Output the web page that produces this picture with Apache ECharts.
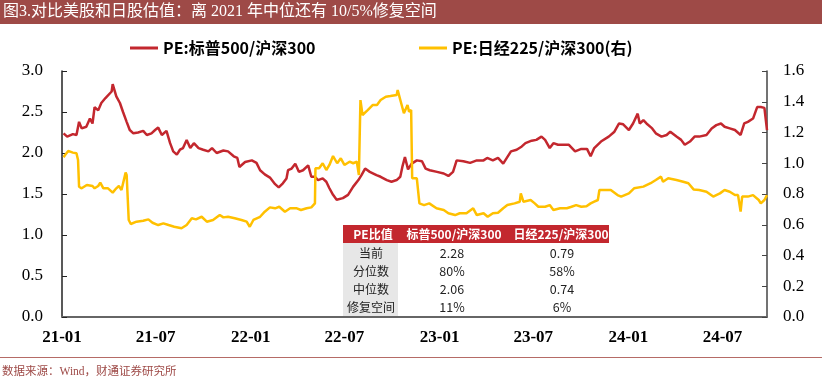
<!DOCTYPE html>
<html><head><meta charset="utf-8">
<script src="https://cdn.jsdelivr.net/npm/echarts@6/dist/echarts.min.js"></script>
<style>html,body{margin:0;padding:0;background:#fff}#c{width:828px;height:392px}</style>
</head><body><div id="c"></div>
<script>
// ---- data ----
const spxName = 'PE:标普500/沪深300';
const nkyName = 'PE:日经225/沪深300(右)';
const spxDates = ['2021-01-04','2021-01-11','2021-01-22','2021-01-29','2021-02-03','2021-02-08','2021-02-17','2021-02-24','2021-03-01','2021-03-05','2021-03-12','2021-03-18','2021-03-26','2021-04-07','2021-04-09','2021-04-16','2021-04-23','2021-04-29','2021-05-06','2021-05-12','2021-05-19','2021-05-28','2021-06-07','2021-06-14','2021-06-23','2021-06-30','2021-07-06','2021-07-13','2021-07-22','2021-07-29','2021-08-04','2021-08-11','2021-08-17','2021-08-23','2021-08-30','2021-09-06','2021-09-13','2021-09-22','2021-10-01','2021-10-11','2021-10-18','2021-10-27','2021-11-09','2021-11-18','2021-11-29','2021-12-06','2021-12-10','2021-12-21','2022-01-03','2022-01-12','2022-01-19','2022-01-28','2022-02-07','2022-02-17','2022-02-24','2022-03-04','2022-03-11','2022-03-14','2022-03-21','2022-03-28','2022-04-04','2022-04-12','2022-04-22','2022-04-28','2022-05-05','2022-05-11','2022-05-20','2022-05-27','2022-06-02','2022-06-09','2022-06-16','2022-06-28','2022-07-08','2022-07-18','2022-07-28','2022-08-03','2022-08-10','2022-08-19','2022-09-01','2022-09-09','2022-09-21','2022-09-30','2022-10-10','2022-10-17','2022-10-21','2022-10-26','2022-11-01','2022-11-08','2022-11-18','2022-11-28','2022-12-05','2022-12-13','2022-12-27','2023-01-09','2023-01-18','2023-01-27','2023-02-03','2023-02-16','2023-03-01','2023-03-14','2023-03-27','2023-04-03','2023-04-14','2023-04-24','2023-05-04','2023-05-11','2023-05-19','2023-05-30','2023-06-09','2023-06-16','2023-06-28','2023-07-07','2023-07-17','2023-07-24','2023-08-02','2023-08-09','2023-08-18','2023-08-31','2023-09-08','2023-09-20','2023-10-02','2023-10-13','2023-10-20','2023-10-27','2023-11-09','2023-11-24','2023-12-05','2023-12-14','2023-12-22','2024-01-02','2024-01-10','2024-01-19','2024-01-23','2024-01-30','2024-02-05','2024-02-16','2024-02-23','2024-03-05','2024-03-15','2024-03-22','2024-04-03','2024-04-12','2024-04-19','2024-04-29','2024-05-08','2024-05-17','2024-05-31','2024-06-10','2024-06-19','2024-06-28','2024-07-05','2024-07-15','2024-07-25','2024-08-05','2024-08-12','2024-08-19','2024-08-29','2024-09-06','2024-09-13','2024-09-20','2024-09-25'];
const spxValues = [2.24,2.20,2.23,2.22,2.38,2.30,2.32,2.42,2.36,2.56,2.52,2.61,2.67,2.75,2.84,2.69,2.61,2.50,2.38,2.28,2.24,2.25,2.27,2.22,2.24,2.28,2.31,2.22,2.27,2.12,2.02,1.98,2.04,2.06,2.16,2.06,2.12,2.06,2.04,2.02,2.06,2.00,2.03,2.02,1.96,1.94,1.83,1.89,1.91,1.88,1.79,1.74,1.70,1.62,1.58,1.63,1.69,1.79,1.81,1.87,1.77,1.79,1.85,1.71,1.71,1.67,1.69,1.65,1.57,1.49,1.43,1.45,1.49,1.59,1.67,1.73,1.81,1.77,1.73,1.71,1.67,1.65,1.67,1.71,1.83,1.95,1.80,1.87,1.91,1.90,1.81,1.79,1.77,1.75,1.72,1.77,1.91,1.90,1.88,1.91,1.91,1.94,1.91,1.94,1.87,1.94,2.02,2.04,2.08,2.12,2.15,2.16,2.20,2.16,2.06,2.12,2.10,2.10,2.10,2.02,2.05,2.05,1.96,2.06,2.14,2.20,2.26,2.36,2.35,2.28,2.36,2.48,2.36,2.40,2.36,2.30,2.24,2.20,2.22,2.26,2.20,2.16,2.10,2.14,2.20,2.20,2.22,2.30,2.34,2.36,2.32,2.30,2.28,2.22,2.36,2.38,2.42,2.56,2.56,2.55,2.28];
const nkyDates = ['2021-01-04','2021-01-07','2021-01-13','2021-01-22','2021-01-29','2021-02-01','2021-02-03','2021-02-08','2021-02-18','2021-03-01','2021-03-05','2021-03-12','2021-03-16','2021-03-22','2021-03-31','2021-04-09','2021-04-16','2021-04-21','2021-04-26','2021-05-04','2021-05-06','2021-05-10','2021-05-14','2021-05-25','2021-06-07','2021-06-17','2021-06-25','2021-07-06','2021-07-16','2021-07-26','2021-08-06','2021-08-20','2021-08-30','2021-09-09','2021-09-17','2021-09-28','2021-10-08','2021-10-20','2021-11-02','2021-11-09','2021-11-18','2021-12-01','2021-12-14','2021-12-24','2021-12-30','2022-01-06','2022-01-19','2022-01-28','2022-02-07','2022-02-17','2022-02-25','2022-03-08','2022-03-18','2022-03-31','2022-04-08','2022-04-19','2022-04-28','2022-05-05','2022-05-06','2022-05-13','2022-05-20','2022-05-27','2022-06-02','2022-06-09','2022-06-17','2022-06-24','2022-07-01','2022-07-11','2022-07-18','2022-07-25','2022-07-29','2022-08-01','2022-08-05','2022-08-15','2022-08-25','2022-09-02','2022-09-09','2022-09-19','2022-09-28','2022-10-10','2022-10-12','2022-10-18','2022-10-24','2022-10-31','2022-11-03','2022-11-07','2022-11-09','2022-11-18','2022-11-23','2022-12-02','2022-12-12','2022-12-26','2023-01-09','2023-01-18','2023-01-31','2023-02-09','2023-02-22','2023-03-07','2023-03-14','2023-03-27','2023-04-04','2023-04-14','2023-04-24','2023-05-04','2023-05-12','2023-05-26','2023-06-05','2023-06-07','2023-06-12','2023-06-26','2023-07-04','2023-07-11','2023-07-24','2023-08-02','2023-08-09','2023-08-22','2023-09-04','2023-09-13','2023-09-22','2023-10-02','2023-10-12','2023-10-20','2023-10-27','2023-11-03','2023-11-06','2023-11-16','2023-11-28','2023-12-11','2023-12-18','2024-01-02','2024-01-12','2024-01-30','2024-02-13','2024-02-23','2024-03-04','2024-03-08','2024-03-18','2024-04-03','2024-04-16','2024-04-26','2024-05-06','2024-05-17','2024-05-31','2024-06-13','2024-06-26','2024-07-05','2024-07-15','2024-07-25','2024-07-31','2024-08-05','2024-08-08','2024-08-19','2024-08-29','2024-09-09','2024-09-13','2024-09-20','2024-09-25'];
const nkyValues = [1.039,1.054,1.080,1.069,1.065,1.021,0.847,0.837,0.859,0.852,0.837,0.852,0.874,0.837,0.837,0.809,0.837,0.852,0.826,0.939,0.924,0.631,0.605,0.620,0.626,0.635,0.613,0.598,0.609,0.598,0.587,0.577,0.598,0.642,0.635,0.652,0.620,0.631,0.663,0.648,0.652,0.642,0.631,0.620,0.587,0.631,0.652,0.685,0.713,0.707,0.717,0.685,0.707,0.707,0.696,0.707,0.713,0.739,0.967,0.967,1.000,0.956,0.989,1.047,1.000,1.032,0.989,1.010,1.000,1.010,0.924,1.411,1.314,1.346,1.379,1.379,1.411,1.433,1.437,1.444,1.476,1.400,1.325,1.379,1.335,1.346,0.902,0.902,0.739,0.728,0.739,0.707,0.696,0.675,0.663,0.675,0.675,0.707,0.663,0.675,0.652,0.675,0.678,0.707,0.728,0.739,0.750,0.804,0.750,0.761,0.739,0.717,0.717,0.728,0.696,0.707,0.707,0.717,0.728,0.717,0.720,0.739,0.750,0.761,0.826,0.826,0.826,0.793,0.783,0.804,0.837,0.848,0.870,0.891,0.913,0.880,0.902,0.891,0.880,0.870,0.830,0.826,0.815,0.783,0.804,0.826,0.815,0.793,0.793,0.685,0.783,0.783,0.793,0.761,0.739,0.761,0.793];
const xTickDates = ['2021-01-01','2021-07-01','2022-01-01','2022-07-01','2023-01-01','2023-07-01','2024-01-01','2024-07-01'];
const xMin = '2021-01-01', xMax = '2024-09-25';
const leftTicks = [0, 3.0, 0.5];   // min, max, interval
const rightTicks = [0, 1.6, 0.2];
const tableHeader = ['PE比值', '标普500/沪深300', '日经225/沪深300'];
const tableRows = ['当前', '分位数', '中位数', '修复空间'];
const tableSpx = ['2.28', '80%', '2.06', '11%'];
const tableNky = ['0.79', '58%', '0.74', '6%'];
const titleText = '图3.对比美股和日股估值：离 2021 年中位还有 10/5%修复空间';
const sourceText = '数据来源：Wind，财通证券研究所';

// ---- build ----
function ts(s){const p=s.split('-').map(Number);return new Date(p[0],p[1]-1,p[2]).getTime();}
const spxData = spxDates.map((d,i)=>[ts(d), spxValues[i]]);
const nkyData = nkyDates.map((d,i)=>[ts(d), nkyValues[i]]);
const RED = '#c3272e', YEL = '#ffc000';
const serif = '"Liberation Serif","Times New Roman",serif';
const cjk = '"Noto Sans CJK SC","Noto Sans",sans-serif';
const serifCjk = '"Liberation Serif","Noto Sans CJK SC",serif';

const tableEls = [];
const tX = 343, tW = 266, tY = 225, hH = 18, rowY = [253, 271, 289, 307];
tableEls.push({type:'rect', shape:{x:tX,y:tY,width:tW,height:hH}, style:{fill:RED}});
tableEls.push({type:'rect', shape:{x:tX,y:tY+hH,width:55,height:316-tY-hH}, style:{fill:'#e7e7e7'}});
const hx = [373, 454, 561];
tableHeader.forEach((t,i)=>tableEls.push({type:'text', x:hx[i], y:tY+hH/2+0.5, style:{text:t, fill:'#fff', font:'bold 12px '+cjk, align:'center', verticalAlign:'middle'}}));
tableRows.forEach((t,i)=>{
  tableEls.push({type:'text', x:371, y:rowY[i], style:{text:t, fill:'#222', font:'12px '+cjk, align:'center', verticalAlign:'middle'}});
  tableEls.push({type:'text', x:452, y:rowY[i], style:{text:tableSpx[i], fill:'#222', font:'12.5px '+cjk, align:'center', verticalAlign:'middle'}});
  tableEls.push({type:'text', x:562, y:rowY[i], style:{text:tableNky[i], fill:'#222', font:'12.5px '+cjk, align:'center', verticalAlign:'middle'}});
});

const chart = echarts.init(document.getElementById('c'));
chart.setOption({
  animation:false,
  backgroundColor:'#fff',
  grid:{left:62, right:61, top:71, bottom:75, containLabel:false},
  legend:[
    {data:[spxName], left:125, top:35, icon:'rect', itemWidth:28, itemHeight:3, textStyle:{fontSize:16, fontWeight:'bold', fontFamily:cjk, color:'#000'}},
    {data:[nkyName], left:414, top:35, icon:'rect', itemWidth:28, itemHeight:3, textStyle:{fontSize:16, fontWeight:'bold', fontFamily:cjk, color:'#000'}}
  ],
  xAxis:{type:'value', min:ts(xMin), max:ts(xMax),
    axisLine:{lineStyle:{color:'#666', width:2}},
    axisTick:{show:false}, splitLine:{show:false},
    axisLabel:{customValues:xTickDates.map(ts), margin:12, color:'#000', fontFamily:serif, fontSize:17, fontWeight:'bold',
      showMinLabel:true, showMaxLabel:true,
      formatter:function(v){const d=new Date(v);return String(d.getFullYear()).slice(2)+'-'+String(d.getMonth()+1).padStart(2,'0');}}
  },
  yAxis:[
    {type:'value', min:leftTicks[0], max:leftTicks[1], interval:leftTicks[2],
      axisLine:{show:true, lineStyle:{color:'#222', width:1.5}},
      axisTick:{show:true, inside:true, length:5, lineStyle:{color:'#222'}},
      splitLine:{show:false},
      axisLabel:{margin:19, color:'#000', fontFamily:serif, fontSize:17, formatter:v=>v.toFixed(1)}},
    {type:'value', min:rightTicks[0], max:rightTicks[1], interval:rightTicks[2], position:'right',
      axisLine:{show:true, lineStyle:{color:'#444', width:1.5}},
      axisTick:{show:true, inside:true, length:5, lineStyle:{color:'#444'}},
      splitLine:{show:false},
      axisLabel:{margin:16, color:'#000', fontFamily:serif, fontSize:17, formatter:v=>v.toFixed(1)}}
  ],
  series:[
    {name:spxName, type:'line', data:spxData, yAxisIndex:0, showSymbol:false, symbol:'none', lineStyle:{color:RED, width:2.5}, itemStyle:{color:RED}},
    {name:nkyName, type:'line', data:nkyData, yAxisIndex:1, showSymbol:false, symbol:'none', lineStyle:{color:YEL, width:2.5}, itemStyle:{color:YEL}}
  ],
  graphic:[
    {type:'rect', shape:{x:0,y:0,width:822,height:24}, style:{fill:'#9e4a47'}},
    {type:'text', x:3, y:12, style:{text:titleText, fill:'#fff', font:'16px '+serifCjk, verticalAlign:'middle'}},
    {type:'rect', shape:{x:0,y:357,width:822,height:1}, style:{fill:'#b56b66'}},
    {type:'text', x:2, y:372, style:{text:sourceText, fill:'#9e4a47', font:'11.5px '+serifCjk, verticalAlign:'middle'}}
  ].concat(tableEls)
});
</script></body></html>
